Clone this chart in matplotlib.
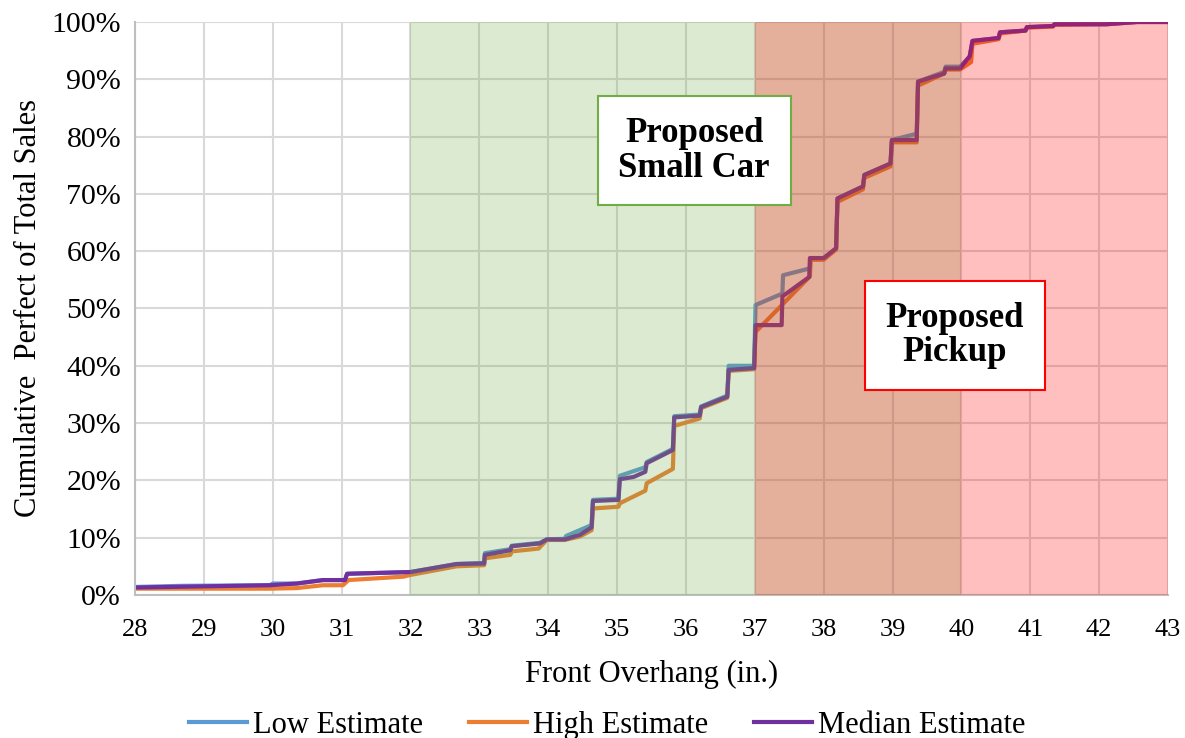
import matplotlib
matplotlib.use("Agg")
import matplotlib.pyplot as plt
from matplotlib.ticker import PercentFormatter

# front overhang (in.) vs cumulative share of sales (%)
low_x = [28.0, 28.7, 29.96, 30.0, 30.35, 30.73, 31.05, 31.08, 32.0, 32.67, 33.07, 33.08,
         33.45, 33.47, 33.88, 33.98, 34.24, 34.26, 34.63, 34.65, 35.02, 35.04, 35.41, 35.43,
         35.81, 35.83, 36.2, 36.22, 36.6, 36.62, 36.99, 37.01, 37.4, 37.41, 37.8, 37.81,
         38.0, 38.18, 38.2, 38.57, 38.59, 38.97, 38.99, 39.35, 39.37, 39.75, 39.77, 39.98,
         40.12, 40.16, 40.54, 40.56, 40.93, 40.95, 41.33, 41.35, 42.1, 42.55, 43.0]
low_y = [1.4, 1.6, 1.7, 2.0, 2.0, 2.6, 2.6, 3.7, 4.0, 5.4, 5.6, 7.3,
         8.0, 8.6, 9.1, 9.7, 9.8, 10.3, 12.2, 16.6, 16.8, 20.8, 22.3, 23.2,
         25.5, 31.2, 31.5, 32.9, 34.8, 40.0, 40.0, 50.6, 52.6, 55.8, 57.0, 58.8,
         58.8, 60.5, 69.2, 71.3, 73.3, 75.3, 79.4, 80.5, 89.6, 91.3, 92.2, 92.2,
         94.0, 96.7, 97.2, 98.2, 98.5, 99.1, 99.3, 99.6, 99.6, 100.0, 100.0]

high_x = [28.0, 29.96, 30.35, 30.73, 31.02, 31.1, 31.9, 32.0, 32.67, 33.07, 33.08, 33.45,
          33.47, 33.86, 33.98, 34.24, 34.46, 34.63, 34.65, 35.02, 35.04, 35.41, 35.43, 35.81,
          35.83, 36.2, 36.22, 36.6, 36.62, 36.99, 37.01, 37.8, 37.81, 38.0, 38.18, 38.2,
          38.57, 38.59, 38.97, 38.99, 39.35, 39.37, 39.75, 39.77, 39.98, 40.14, 40.16, 40.54,
          40.56, 40.93, 40.95, 41.33, 41.35, 42.1, 42.55, 43.0]
high_y = [1.1, 1.1, 1.2, 1.7, 1.7, 2.6, 3.2, 3.5, 5.0, 5.2, 6.4, 7.0,
          7.6, 8.1, 9.6, 9.6, 10.2, 11.3, 15.1, 15.4, 16.0, 18.2, 19.5, 22.0,
          29.5, 30.8, 32.6, 34.4, 39.1, 39.4, 45.9, 55.6, 58.5, 58.5, 60.3, 68.6,
          70.8, 72.8, 74.8, 79.0, 79.0, 88.9, 91.0, 91.7, 91.7, 93.0, 96.2, 97.0,
          98.0, 98.5, 99.0, 99.2, 99.5, 99.7, 100.0, 100.0]

med_x = [28.0, 29.96, 30.35, 30.73, 31.05, 31.08, 32.0, 32.67, 33.07, 33.08, 33.45, 33.47,
         33.88, 33.98, 34.24, 34.46, 34.63, 34.65, 35.02, 35.04, 35.24, 35.41, 35.43, 35.81,
         35.83, 36.2, 36.22, 36.6, 36.62, 36.99, 37.01, 37.39, 37.4, 37.79, 37.8, 38.0,
         38.18, 38.2, 38.57, 38.59, 38.97, 38.99, 39.35, 39.37, 39.75, 39.77, 39.98, 40.12,
         40.16, 40.54, 40.56, 40.93, 40.95, 41.33, 41.35, 42.1, 42.55, 43.0]
med_y = [1.3, 1.7, 2.0, 2.6, 2.6, 3.7, 4.0, 5.4, 5.5, 7.0, 7.8, 8.5,
         9.0, 9.7, 9.7, 10.5, 11.8, 16.4, 16.6, 20.2, 20.6, 21.5, 23.0, 25.3,
         31.0, 31.3, 32.8, 34.6, 39.3, 39.6, 47.1, 47.1, 52.1, 55.5, 58.8, 58.8,
         60.5, 69.2, 71.3, 73.3, 75.3, 79.4, 79.4, 89.6, 91.0, 91.9, 91.9, 94.0,
         96.7, 97.2, 98.2, 98.5, 99.1, 99.3, 99.6, 99.6, 100.0, 100.0]

small_car = (32, 40)
pickup = (37, 43)

plt.rcParams['font.family'] = ['Liberation Serif', 'DejaVu Serif']

fig = plt.figure(figsize=(11.85, 7.38), dpi=100)
ax = fig.add_axes([0.1139, 0.1938, 0.8718, 0.7764])

ax.plot(low_x, low_y, color='#5B9BD5', lw=3, label='Low Estimate', zorder=2)
ax.plot(high_x, high_y, color='#ED7D31', lw=3, label='High Estimate', zorder=2)
ax.plot(med_x, med_y, color='#7030A0', lw=3, label='Median Estimate', zorder=2)

# shaded ranges sit over the lines, like the original
ax.axvspan(*small_car, color='#70AD47', alpha=0.25, lw=0, zorder=3)
ax.axvspan(*pickup, color='#FF0000', alpha=0.25, lw=0, zorder=3)

ax.set_xlim(28, 43)
ax.set_ylim(0, 100)
ax.set_xticks(range(28, 44))
ax.set_yticks(range(0, 101, 10))
ax.yaxis.set_major_formatter(PercentFormatter(decimals=0))
ax.grid(True, color='#d9d9d9', lw=1.5, zorder=0)
ax.set_axisbelow(True)
for s in ['top', 'right']:
    ax.spines[s].set_visible(False)
for s in ['left', 'bottom']:
    ax.spines[s].set_color('#bfbfbf')
    ax.spines[s].set_linewidth(1.5)
ax.tick_params(axis='x', length=0, labelsize=19, pad=17)
ax.tick_params(axis='y', length=0, labelsize=21.5, pad=10)

ax.set_xlabel('Front Overhang (in.)', fontsize=22, labelpad=14)
ax.set_ylabel('Cumulative  Perfect of Total Sales', fontsize=22, labelpad=6)

ax.text(36.12, 77.5, 'Proposed\nSmall Car', ha='center', va='center', fontsize=25,
        fontweight='bold', linespacing=1.05, zorder=5,
        bbox=dict(boxstyle='square,pad=0.6', fc='white', ec='#70AD47', lw=1.5))
ax.text(39.9, 45.3, 'Proposed\nPickup', ha='center', va='center', fontsize=25,
        fontweight='bold', linespacing=1.05, zorder=5,
        bbox=dict(boxstyle='square,pad=0.6', fc='white', ec='#FF0000', lw=1.5))

ax.legend(loc='center', bbox_to_anchor=(0.457, -0.228), ncol=3, frameon=False,
          fontsize=22, handlelength=1.9, handletextpad=0.2, columnspacing=1.5)

fig.savefig('out.png', dpi=100)
